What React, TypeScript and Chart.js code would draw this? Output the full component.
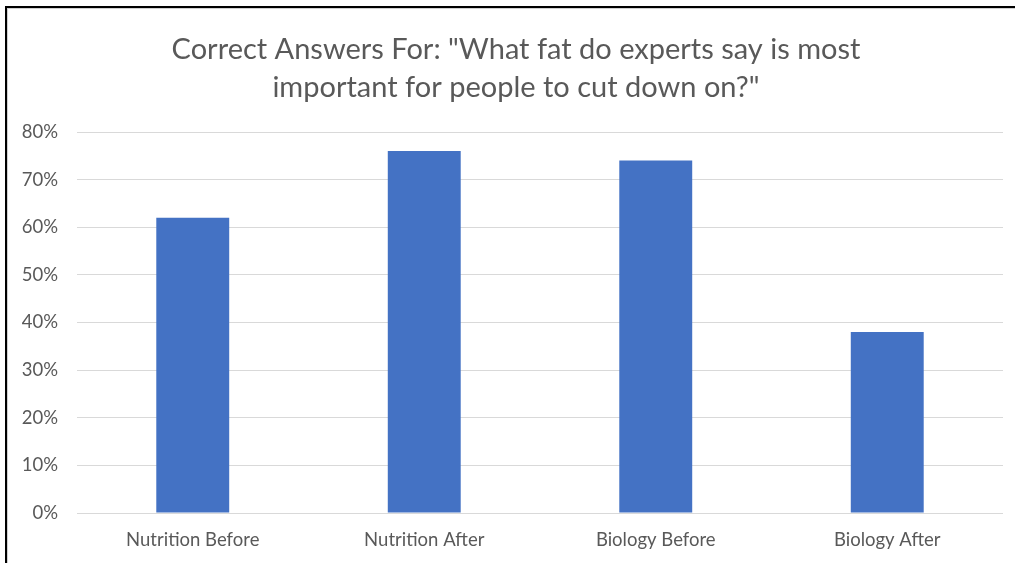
import React, { useEffect, useRef } from "react";
import { Chart, registerables } from "chart.js";

Chart.register(...registerables);

const categories = ["Nutrition Before", "Nutrition After", "Biology Before", "Biology After"];
const correctShare = [0.62, 0.76, 0.74, 0.38];
const titleLines = ["Correct Answers For: \"What fat do experts say is most", "important for people to cut down on?\""];

const FONT = "Lato, 'Open Sans', sans-serif";

const shiftTitle = {
  id: "shiftTitle",
  afterLayout(chart: any) {
    const t = chart.titleBlock;
    if (t) {
      t.left = 29;
      t.width = t.right - t.left;
    }
  },
};

export default function App() {
  const ref = useRef<HTMLCanvasElement | null>(null);

  useEffect(() => {
    if (!ref.current) return;
    const chart = new Chart(ref.current, {
      type: "bar",
      data: {
        labels: categories,
        datasets: [
          {
            data: correctShare,
            backgroundColor: "#4472c4",
            borderWidth: 0,
            categoryPercentage: 1,
            barPercentage: 0.315,
          },
        ],
      },
      plugins: [shiftTitle],
      options: {
        animation: false,
        responsive: false,
        maintainAspectRatio: false,
        layout: { padding: { left: 0, right: 12, top: 0, bottom: 0 } },
        plugins: {
          legend: { display: false },
          tooltip: { enabled: false },
          title: {
            display: true,
            text: titleLines,
            color: "#595959",
            font: { family: FONT, size: 29, weight: "normal", lineHeight: 38 / 29 },
            padding: { top: 31, bottom: 25 },
          },
        },
        scales: {
          x: {
            grid: { display: false, drawTicks: false },
            border: { display: false },
            ticks: {
              color: "#595959",
              font: { family: FONT, size: 18.5 },
              padding: 16,
              maxRotation: 0,
            },
            afterFit: (s: any) => {
              s.height = 50;
            },
          },
          y: {
            min: 0,
            max: 0.8,
            grid: { color: "#d9d9d9", lineWidth: 1, drawTicks: false },
            border: { display: false },
            ticks: {
              stepSize: 0.1,
              color: "#595959",
              font: { family: FONT, size: 18.5 },
              padding: 19,
              callback: (v: any) => Math.round(Number(v) * 100) + "%",
            },
            afterFit: (s: any) => {
              s.width = 77;
            },
          },
        },
      },
    });
    return () => chart.destroy();
  }, []);

  return (
    <div
      style={{
        position: "fixed",
        left: 0,
        top: 0,
        width: 1015,
        height: 563,
        overflow: "hidden",
        background: "#ffffff",
      }}
    >
      <canvas ref={ref} width={1015} height={563} style={{ position: "absolute", left: 0, top: 0 }} />
      <div
        style={{
          position: "absolute",
          left: 5,
          top: 6,
          width: 1100,
          height: 700,
          borderTop: "2px solid #000",
          borderLeft: "2px solid #000",
          boxShadow: "inset 1px 1px 0 #d0d0d0",
          pointerEvents: "none",
        }}
      />
    </div>
  );
}
